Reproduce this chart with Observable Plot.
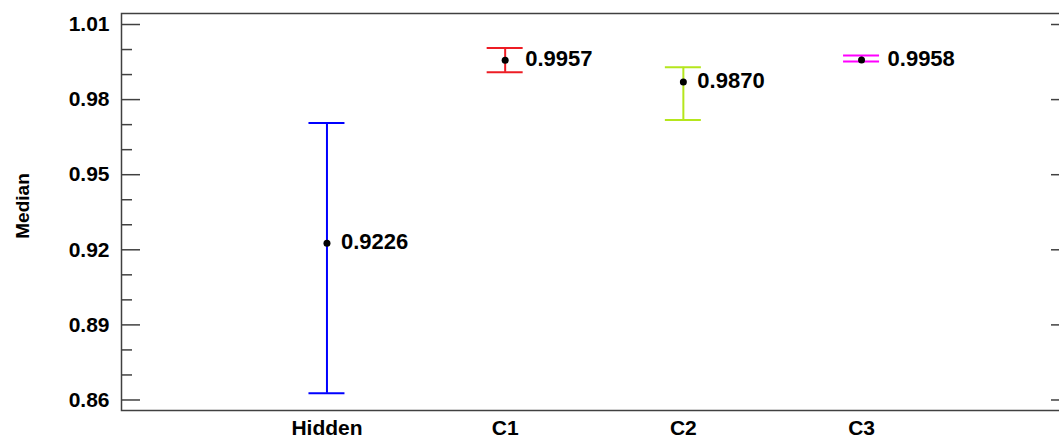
<!DOCTYPE html>
<html>
<head>
<meta charset="utf-8">
<script src="https://cdn.jsdelivr.net/npm/d3@7"></script>
<script src="https://cdn.jsdelivr.net/npm/@observablehq/plot@0.6"></script>
<style>
  html, body { margin: 0; padding: 0; background: #fff; overflow: hidden; }
  #chart svg { display: block; }
</style>
</head>
<body>
<div id="chart"></div>
<script>
// ---- data ----
const categories = ["Hidden", "C1", "C2", "C3"];
const medians = [0.9226, 0.9957, 0.9870, 0.9958];
const lower = [0.8627, 0.9909, 0.9719, 0.9952];
const upper = [0.9707, 1.0006, 0.9929, 0.9976];
const majorTicks = [0.86, 0.89, 0.92, 0.95, 0.98, 1.01];
const minorTicks = [0.87, 0.88, 0.90, 0.91, 0.93, 0.94, 0.96, 0.97, 0.99, 1.00];
const yLabel = "Median";
// ---- styles ----
const colors = ["#0000FF", "#ED1C24", "#B5E61D", "#FF00FF"];

const rows = categories.map((c, i) => ({cat: c, median: medians[i], lo: lower[i], hi: upper[i]}));
const gap = d => Math.min(d.hi - d.median, d.median - d.lo);
const labelGroups = [
  {filter: d => gap(d) >= 0.0055, dx: 14},
  {filter: d => gap(d) < 0.0055 && gap(d) >= 0.003, dx: 20},
  {filter: d => gap(d) < 0.003, dx: 26}
];

const font = "Arial, 'Liberation Sans', sans-serif";
const axisColor = "#404040";

const chart = Plot.plot({
  width: 1059,
  height: 443,
  marginLeft: 121,
  marginRight: -10,
  marginTop: 13,
  marginBottom: 33,
  style: {fontFamily: font, fontSize: "21px", fontWeight: "bold", color: "#000", background: "#fff"},
  x: {type: "point", domain: categories, padding: 1.16, align: 0.497, round: false, label: null},
  y: {domain: [0.8558, 1.0144], label: null},
  color: {domain: categories, range: colors},
  marks: [
    Plot.frame({stroke: axisColor, strokeWidth: 1.5}),
    // left axis: major ticks with labels
    Plot.axisY({anchor: "left", ticks: majorTicks, tickSize: -19, tickPadding: 31,
      tickFormat: d3.format(".2f"), stroke: axisColor, strokeWidth: 1.5, fill: "#000",
      fontSize: 21, fontWeight: "bold", label: null}),
    Plot.axisY({anchor: "left", ticks: minorTicks, tickSize: -11, tickFormat: () => "",
      stroke: axisColor, strokeWidth: 1.5, label: null}),
    // right axis: inward ticks only
    Plot.axisY({anchor: "right", ticks: majorTicks, tickSize: -19, tickFormat: () => "",
      stroke: axisColor, strokeWidth: 1.5, label: null}),
    Plot.axisY({anchor: "right", ticks: minorTicks, tickSize: -11, tickFormat: () => "",
      stroke: axisColor, strokeWidth: 1.5, label: null}),
    // x axis labels
    Plot.axisX({tickSize: 0, tickPadding: 10, fill: "#000", fontSize: 21, fontWeight: "bold", label: null}),
    // y axis title
    Plot.text([yLabel], {frameAnchor: "left", text: d => d, rotate: -90, dx: -99, dy: -6,
      textAnchor: "middle", fontSize: 19, fontWeight: "bold", fill: "#000"}),
    // error bars
    Plot.ruleX(rows, {x: "cat", y1: "lo", y2: "hi", stroke: "cat", strokeWidth: 2}),
    Plot.ruleY(rows, {x1: "cat", x2: "cat", y: "hi", stroke: "cat", strokeWidth: 2, insetLeft: -18, insetRight: -18}),
    Plot.ruleY(rows, {x1: "cat", x2: "cat", y: "lo", stroke: "cat", strokeWidth: 2, insetLeft: -18, insetRight: -18}),
    // medians
    Plot.dot(rows, {x: "cat", y: "median", r: 3.5, fill: "#000", stroke: null}),
    ...labelGroups.map(g => Plot.text(rows.filter(g.filter), {x: "cat", y: "median",
      text: d => d.median.toFixed(4), dx: g.dx, dy: -1,
      textAnchor: "start", fontSize: 22, fontWeight: "bold", fill: "#000"}))
  ]
});
document.getElementById("chart").append(chart);
</script>
</body>
</html>
